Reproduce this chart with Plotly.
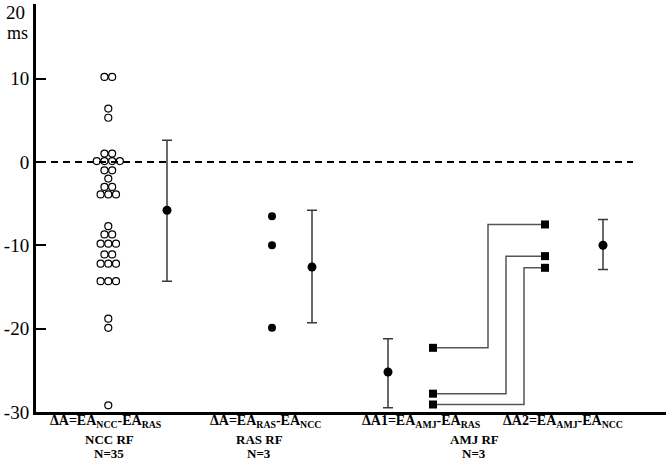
import plotly.graph_objects as go
from collections import Counter

# ---------------- data ----------------
ncc_values = [10.2, 10.2, 6.4, 5.3, 1.0, 1.0, 0.1, 0.1, 0.1, 0.1,
              -1.0, -1.0, -2.0, -3.0, -3.0, -3.9, -3.9, -3.9,
              -7.7, -8.7, -8.7, -9.8, -9.8, -9.8, -11.1, -11.1,
              -12.2, -12.2, -12.2, -14.3, -14.3, -14.3, -18.8, -19.9, -29.2]
ncc_stats = {"mean": -5.8, "hi": 2.6, "lo": -14.3}

ras_values = [-6.5, -10.0, -19.9]
ras_stats = {"mean": -12.6, "hi": -5.8, "lo": -19.3}

amj_minus_ras = [-22.3, -27.8, -29.1]   # dA1 squares (paired)
amj_minus_ncc = [-7.5, -11.3, -12.7]    # dA2 squares (paired)
amj1_stats = {"mean": -25.2, "hi": -21.2, "lo": -29.5}
amj2_stats = {"mean": -10.0, "hi": -6.9, "lo": -12.9}

ytick_vals = [-30, -20, -10, 0, 10]
ytick_text = ["-30", "-20", "-10", "0", "10"]
top_label = "20"
unit_label = "ms"
zero_level = 0

group_labels = ["ΔA=EA<sub>NCC</sub>-EA<sub>RAS</sub>",
                "ΔA=EA<sub>RAS</sub>-EA<sub>NCC</sub>",
                "ΔA1=EA<sub>AMJ</sub>-EA<sub>RAS</sub>",
                "ΔA2=EA<sub>AMJ</sub>-EA<sub>NCC</sub>"]
rf_labels = ["NCC RF", "RAS RF", "AMJ RF"]
n_labels = ["N=35", "N=3", "N=3"]

# ---------------- layout positions (x axis units) ----------------
X_NCC_PTS, X_NCC_BAR = 7.23, 13.1
X_RAS_PTS, X_RAS_BAR = 23.6, 27.6
X_AMJ1_BAR, X_AMJ1_PTS = 35.2, 39.7
X_LINKS = [45.2, 47.0, 48.8]
X_AMJ2_PTS, X_AMJ2_BAR = 50.9, 56.7
X_ZERO_END = 59.7
X_RANGE = [0, 63]
Y_RANGE = [-30, 18.95]
Y_TOP_TICK = 18.9
SPACING = 0.77

SERIF = "Liberation Serif, Times New Roman, serif"

fig = go.Figure()

# beeswarm layout for NCC points: rows of equal values centered
counts = Counter(ncc_values)
seen = Counter()
xs = []
for v in ncc_values:
    n = counts[v]
    i = seen[v]
    seen[v] += 1
    xs.append(X_NCC_PTS + (i - (n - 1) / 2) * SPACING)

fig.add_trace(go.Scatter(
    x=xs, y=ncc_values, mode="markers",
    marker=dict(symbol="circle-open", size=7, color="black", line=dict(width=1.2)),
    showlegend=False, hoverinfo="skip"))

# RAS points
fig.add_trace(go.Scatter(
    x=[X_RAS_PTS] * len(ras_values), y=ras_values, mode="markers",
    marker=dict(symbol="circle", size=8, color="black"),
    showlegend=False, hoverinfo="skip"))

# connectors for AMJ paired data
for xl, a, b in zip(X_LINKS, amj_minus_ras, amj_minus_ncc):
    fig.add_trace(go.Scatter(
        x=[X_AMJ1_PTS, xl, xl, X_AMJ2_PTS], y=[a, a, b, b], mode="lines",
        line=dict(color="#555555", width=1.5),
        showlegend=False, hoverinfo="skip"))

fig.add_trace(go.Scatter(
    x=[X_AMJ1_PTS] * 3 + [X_AMJ2_PTS] * 3, y=amj_minus_ras + amj_minus_ncc,
    mode="markers", marker=dict(symbol="square", size=8, color="black"),
    showlegend=False, hoverinfo="skip"))

# means with error bars
for xp, st in [(X_NCC_BAR, ncc_stats), (X_RAS_BAR, ras_stats),
               (X_AMJ1_BAR, amj1_stats), (X_AMJ2_BAR, amj2_stats)]:
    fig.add_trace(go.Scatter(
        x=[xp], y=[st["mean"]], mode="markers",
        marker=dict(symbol="circle", size=9, color="black"),
        error_y=dict(type="data", symmetric=False,
                     array=[st["hi"] - st["mean"]],
                     arrayminus=[st["mean"] - st["lo"]],
                     color="#3a3a3a", thickness=1.5, width=5),
        showlegend=False, hoverinfo="skip"))

# zero dashed line
fig.add_shape(type="line", x0=X_RANGE[0] + 0.3, x1=X_ZERO_END, y0=zero_level, y1=zero_level,
              xref="x", yref="y", line=dict(color="black", width=2, dash="7px,5px"))

# bottom labels
label_x = [7.0, 22.9, 38.5, 52.7]
for lx, txt in zip(label_x, group_labels):
    fig.add_annotation(x=lx, y=-0.05, xref="x", yref="paper", text="<b>" + txt + "</b>",
                       showarrow=False, font=dict(family=SERIF, size=14, color="black"))
rf_x = [7.3, 22.3, 43.8]
for lx, rf, nn in zip(rf_x, rf_labels, n_labels):
    fig.add_annotation(x=lx, y=-0.09, xref="x", yref="paper", text="<b>" + rf + "</b>",
                       showarrow=False, font=dict(family=SERIF, size=13, color="black"))
    fig.add_annotation(x=lx, y=-0.126, xref="x", yref="paper", text="<b>" + nn + "</b>",
                       showarrow=False, font=dict(family=SERIF, size=13, color="black"))

# top label "20" and unit
fig.add_annotation(x=0, y=1, xref="paper", yref="paper", xanchor="right", yanchor="top",
                   xshift=-9, yshift=4, text=top_label, showarrow=False,
                   font=dict(family=SERIF, size=19, color="black"))
fig.add_annotation(x=0, y=1, xref="paper", yref="paper", xanchor="right", yanchor="top",
                   xshift=-6, yshift=-17, text=unit_label, showarrow=False,
                   font=dict(family=SERIF, size=18, color="black"))

fig.update_xaxes(range=X_RANGE, showgrid=False, zeroline=False, showticklabels=False,
                 ticks="", showline=True, linecolor="black", linewidth=3, automargin=False)
fig.update_yaxes(range=Y_RANGE, showgrid=False, zeroline=False,
                 tickvals=ytick_vals + [Y_TOP_TICK], ticktext=ytick_text + [""],
                 ticks="inside", ticklen=10, tickwidth=2, tickcolor="black",
                 showline=True, linecolor="black", linewidth=3,
                 tickfont=dict(family=SERIF, size=19, color="black"),
                 ticklabelstandoff=0, automargin=False)

fig.update_layout(width=666, height=469, margin=dict(l=36, r=0, t=4, b=57, autoexpand=False),
                  plot_bgcolor="white", paper_bgcolor="white", showlegend=False)

fig.write_html("out.html", config={"displayModeBar": False},
               post_script="document.body.style.margin='0px';")
